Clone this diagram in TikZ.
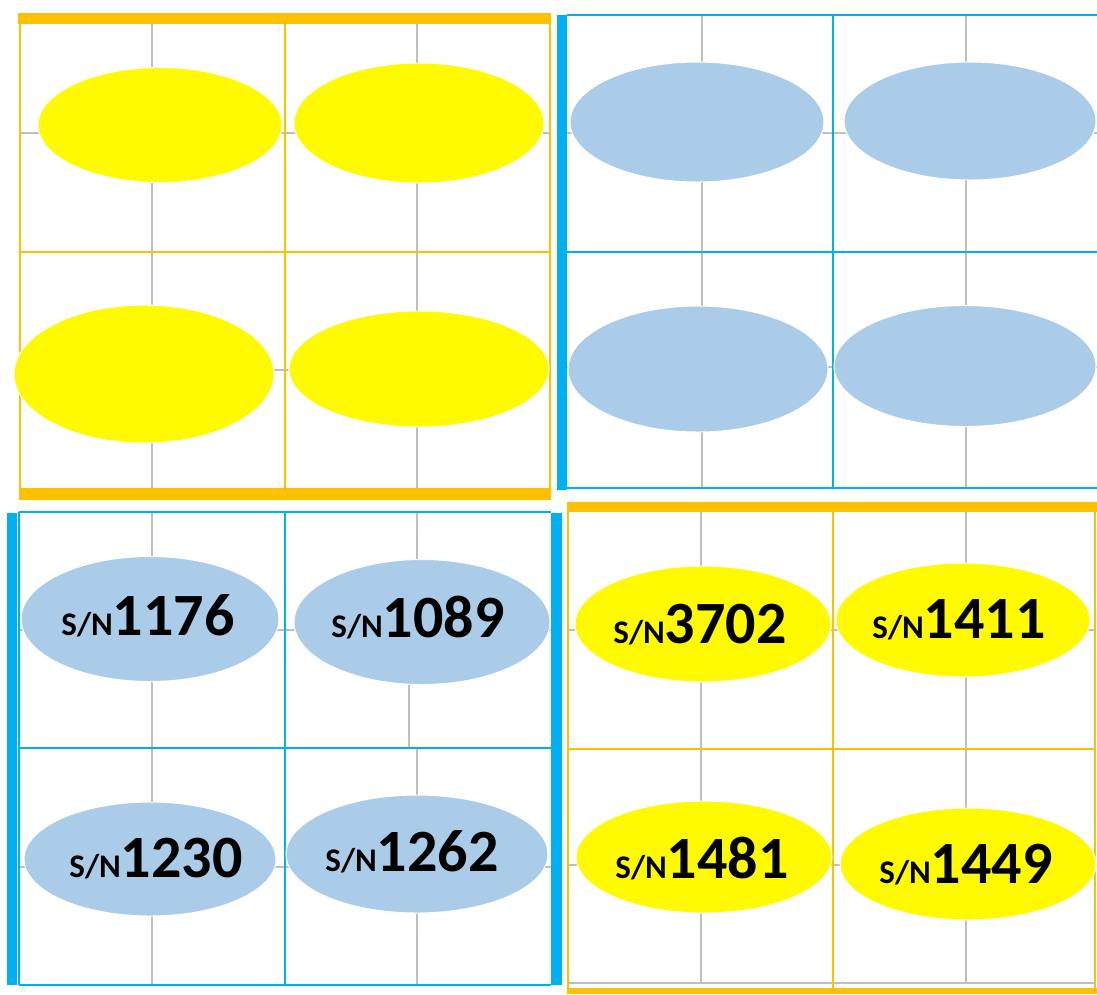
\documentclass[tikz,border=0pt]{standalone}
\usepackage{fontspec}
\setmainfont{Carlito}
\usetikzlibrary{shapes.geometric}
\definecolor{orC}{HTML}{FFC000}
\definecolor{cyC}{HTML}{00B0F0}
\definecolor{yeC}{HTML}{FFFA00}
\definecolor{lbC}{HTML}{ABCCE9}
\definecolor{grC}{HTML}{BFBFBF}
\tikzset{
  grid/.style={draw=grC, line width=2pt},
  othin/.style={draw=orC, line width=2.5pt},
  cthin/.style={draw=cyC, line width=2.5pt},
  obar/.style={fill=orC, draw=none},
  cbar/.style={fill=cyC, draw=none},
  ell/.style={ellipse, draw=white, line width=1pt, inner sep=0pt},
  yell/.style={ell, fill=yeC},
  bell/.style={ell, fill=lbC},
  sn/.style={inner sep=0pt, anchor=base, font=\bfseries},
}
\newcommand{\snlab}[1]{{\fontsize{33}{33}\selectfont S/N}{\fontsize{60}{60}\selectfont #1}}
\begin{document}
\begin{tikzpicture}[x=1pt,y=-1pt]
\useasboundingbox (0,0) rectangle (1097,994);
\fill[white] (0,0) rectangle (1097,994);
% ---------- panel 1 (top left, orange) ----------
\draw[grid] (152,23) -- (152,489) (417,23) -- (417,489);
\draw[grid] (20,133) -- (550,133) (20,370) -- (550,370);
\draw[othin] (20,13) -- (20,500) (550,13) -- (550,500) (285,23) -- (285,489) (20,252) -- (550,252);
\fill[obar] (18,13) rectangle (550,24);
\fill[obar] (20,488) rectangle (550,500);
% ---------- panel 2 (top right, blue) ----------
\draw[grid] (702,15) -- (702,488) (966,15) -- (966,488);
\draw[grid] (567,133) -- (1097,133) (567,367) -- (1097,367);
\draw[cthin] (567,15) -- (1097,15) (567,488) -- (1097,488) (833,15) -- (833,488) (567,252) -- (1097,252);
\fill[cbar] (557,15) rectangle (567,490);
% ---------- panel 3 (bottom left, blue) ----------
\draw[grid] (152,512) -- (152,985) (417,512) -- (417,560) (409,684) -- (409,748) (417,748) -- (417,985);
\draw[grid] (19,630) -- (551,630) (19,867) -- (551,867);
\draw[cthin] (19,512) -- (551,512) (19,985) -- (551,985) (19,512) -- (19,985) (285,512) -- (285,985) (19,748) -- (551,748);
\fill[cbar] (7,513) rectangle (17,985);
\fill[cbar] (551,513) rectangle (562,985);
% ---------- panel 4 (bottom right, orange) ----------
\draw[grid] (701,512) -- (701,983) (966,512) -- (966,983);
\draw[grid] (568,630) -- (1095,630) (568,865) -- (1095,865) (568,983) -- (1095,983);
\draw[othin] (568,502) -- (568,994) (1095,502) -- (1095,994) (833,512) -- (833,988) (568,749) -- (1095,749);
\fill[obar] (567,502) rectangle (1097,512);
\fill[obar] (567,988) rectangle (1097,994);
% ---------- ellipses ----------
\node[yell, minimum width=244pt, minimum height=115pt] (y1) at (160,125) {};
\node[yell, minimum width=250pt, minimum height=120pt] (y2) at (419,123) {};
\node[yell, minimum width=260pt, minimum height=138pt] (y3) at (144,374) {};
\node[yell, minimum width=260pt, minimum height=116pt] (y4) at (419,369) {};
\node[bell, minimum width=254pt, minimum height=120pt] (b1) at (697,122) {};
\node[bell, minimum width=252pt, minimum height=118pt] (b2) at (970,121) {};
\node[bell, minimum width=260pt, minimum height=126pt] (b3) at (698,369) {};
\node[bell, minimum width=262pt, minimum height=121pt] (b4) at (965,366) {};
\node[bell, minimum width=258pt, minimum height=125pt] (c1) at (150,619) {};
\node[bell, minimum width=256pt, minimum height=125pt] (c2) at (422,622) {};
\node[bell, minimum width=252pt, minimum height=114pt] (c3) at (150,859) {};
\node[bell, minimum width=262pt, minimum height=118pt] (c4) at (417,854) {};
\node[yell, minimum width=256pt, minimum height=116pt] (d1) at (703,624) {};
\node[yell, minimum width=254pt, minimum height=114pt] (d2) at (963,620) {};
\node[yell, minimum width=256pt, minimum height=112pt] (d3) at (704,857) {};
\node[yell, minimum width=256pt, minimum height=112pt] (d4) at (968,864) {};
% ---------- labels ----------
\node[sn] (t1) at (148,635) {\snlab{1176}};
\node[sn] (t2) at (418,637) {\snlab{1089}};
\node[sn] (t3) at (156,877) {\snlab{1230}};
\node[sn] (t4) at (412,871) {\snlab{1262}};
\node[sn] (t5) at (700,643) {\snlab{3702}};
\node[sn] (t6) at (959,638) {\snlab{1411}};
\node[sn] (t7) at (702,878) {\snlab{1481}};
\node[sn] (t8) at (966,883) {\snlab{1449}};
\end{tikzpicture}
\end{document}
